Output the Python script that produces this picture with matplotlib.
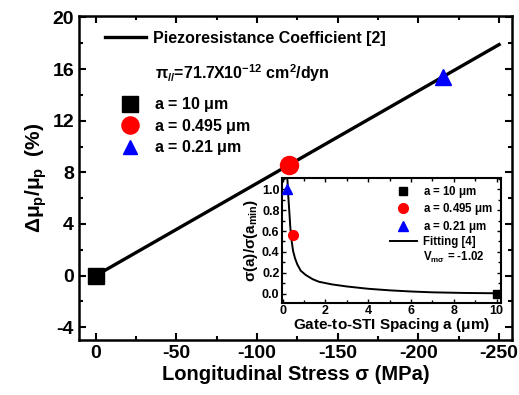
import matplotlib
matplotlib.use('Agg')
import matplotlib.pyplot as plt
from matplotlib.lines import Line2D
from matplotlib.ticker import MultipleLocator

plt.rcParams['font.family'] = ['Liberation Sans', 'DejaVu Sans']
plt.rcParams['font.weight'] = 'bold'
plt.rcParams['axes.unicode_minus'] = False
plt.rcParams['mathtext.fontset'] = 'custom'
plt.rcParams['mathtext.rm'] = 'Liberation Sans:bold'
plt.rcParams['mathtext.it'] = 'Liberation Sans:bold'
plt.rcParams['mathtext.bf'] = 'Liberation Sans:bold'
plt.rcParams['mathtext.sf'] = 'Liberation Sans:bold'

#####
# Main panel data

# piezoresistance line, pi = 71.7e-12 cm^2/dyn
stress_line = [0, -250]
mob_line = [0.0, 17.9]

stress_pts = [0, -120, -215]
mob_pts = [0.0, 8.6, 15.4]
pt_labels = [r'a = 10 $\mu$m', r'a = 0.495 $\mu$m', r'a = 0.21 $\mu$m']

#####
# Inset data

spacing_pts = [10.0, 0.495, 0.21]
sigma_pts = [0.0, 0.56, 1.0]

fit_x = [0.21, 0.23, 0.26, 0.31, 0.36, 0.42, 0.49, 0.58, 0.69, 0.85, 1.08,
         1.4, 1.7, 2.3, 3.0, 4.0, 5.0, 6.0, 7.0, 8.5, 10.0]
fit_y = [1.12, 1.08, 0.95, 0.80, 0.64, 0.51, 0.41, 0.34, 0.28, 0.22, 0.18,
         0.14, 0.115, 0.09, 0.07, 0.048, 0.033, 0.022, 0.014, 0.008, 0.005]

markers = ['s', 'o', '^']
colors = ['black', 'red', 'blue']
main_ms = [12, 13, 11]
inset_ms = [6, 7, 7]

fig = plt.figure(figsize=(5.19, 3.95), dpi=100)

# main axes
ax = fig.add_axes([0.152, 0.139, 0.8345, 0.820])
ax.plot(stress_line, mob_line, color='black', lw=2.4, zorder=2)
for x, y, m, c, s in zip(stress_pts, mob_pts, markers, colors, main_ms):
    ax.plot([x], [y], marker=m, color=c, ms=s, ls='none', zorder=3)

ax.set_xlim(10.5, -258)
ax.set_ylim(-5, 20.1)
ax.xaxis.set_major_locator(MultipleLocator(50))
ax.xaxis.set_minor_locator(MultipleLocator(25))
ax.yaxis.set_major_locator(MultipleLocator(4))
ax.yaxis.set_minor_locator(MultipleLocator(2))
ax.tick_params(which='both', direction='in', top=True, right=True,
               width=1.5, labelsize=14)
ax.tick_params(which='major', length=5)
ax.tick_params(which='minor', length=3)
for sp in ax.spines.values():
    sp.set_linewidth(1.8)
ax.set_xlabel('Longitudinal Stress σ (MPa)', fontsize=14.5, fontweight='bold',
              labelpad=2)
ax.set_ylabel(r'$\Delta\mu_p/\mu_p$  (%)', fontsize=15, fontweight='bold',
              labelpad=2)

h1 = [Line2D([], [], color='black', lw=2.4)]
leg1 = ax.legend(h1, ['Piezoresistance Coefficient [2]'], loc='upper left',
                 bbox_to_anchor=(0.045, 0.975), frameon=False, fontsize=11.5,
                 handlelength=2.6, handletextpad=0.4, borderaxespad=0)
ax.add_artist(leg1)
ax.text(0.176, 0.824, r'$\pi_{//}$=71.7X10$^{-12}$ cm$^2$/dyn',
        transform=ax.transAxes, fontsize=11.5, fontweight='bold',
        ha='left', va='center')

h2 = [Line2D([], [], marker=m, color=c, ms=s, ls='none')
      for m, c, s in zip(markers, colors, main_ms)]
ax.legend(h2, pt_labels, loc='upper left', bbox_to_anchor=(0.067, 0.775),
          frameon=False, fontsize=11.5, handletextpad=0.5, labelspacing=0.15,
          borderaxespad=0, markerscale=0.95)

# inset
ins = fig.add_axes([0.5424, 0.2329, 0.4229, 0.316])
ins.plot(fit_x, fit_y, color='black', lw=1.4, zorder=2)
for x, y, m, c, s in zip(spacing_pts, sigma_pts, markers, colors, inset_ms):
    ins.plot([x], [y], marker=m, color=c, ms=s, ls='none', zorder=3)
ins.set_xlim(-0.05, 10.2)
ins.set_ylim(-0.088, 1.105)
ins.xaxis.set_major_locator(MultipleLocator(2))
ins.xaxis.set_minor_locator(MultipleLocator(1))
ins.yaxis.set_major_locator(MultipleLocator(0.2))
ins.yaxis.set_minor_locator(MultipleLocator(0.1))
ins.yaxis.set_major_formatter(plt.FormatStrFormatter('%.1f'))
ins.tick_params(which='both', direction='in', top=True, right=True,
                width=1.0, labelsize=9, pad=1.5)
ins.tick_params(which='major', length=3)
ins.tick_params(which='minor', length=2)
for sp in ins.spines.values():
    sp.set_linewidth(1.5)
ins.set_xlabel(r'Gate-to-STI Spacing a ($\mu$m)', fontsize=11,
               fontweight='bold', labelpad=-1)
ins.set_ylabel(r'$\sigma$(a)/$\sigma$(a$_{min}$)', fontsize=11,
               fontweight='bold', labelpad=1)

h3 = [Line2D([], [], marker=m, color=c, ms=s, ls='none')
      for m, c, s in zip(markers, colors, inset_ms)]
h3.append(Line2D([], [], color='black', lw=1.4))
h3.append(Line2D([], [], ls='none'))
ins.legend(h3, pt_labels + ['Fitting [4]', r'V$_{m\sigma}$ = -1.02'],
           loc='upper right', bbox_to_anchor=(0.985, 0.99), frameon=False,
           fontsize=8.3, handlelength=2.4, handletextpad=0.5,
           labelspacing=0.12, borderaxespad=0)

fig.savefig('out.png', dpi=100)
plt.close(fig)
